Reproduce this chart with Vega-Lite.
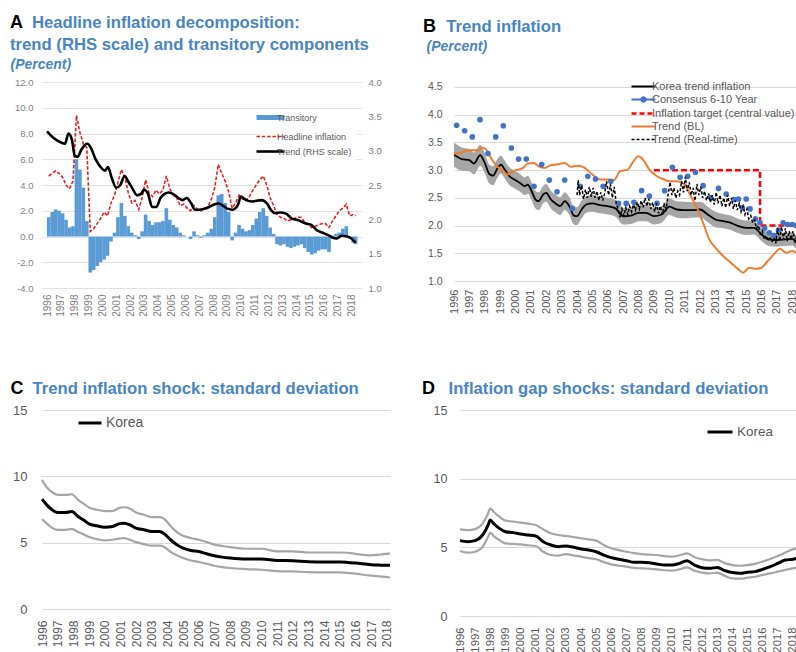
{
  "$schema": "https://vega.github.io/schema/vega-lite/v6.json",
  "padding": {"left": 10, "top": 14, "right": 0, "bottom": 0},
  "background": "white",
  "config": {
    "view": {"stroke": null},
    "font": "Liberation Sans",
    "locale": {"number": {"decimal": ".", "thousands": ",", "grouping": [3], "currency": ["$", ""], "minus": "-"}},
    "axis": {"domain": false, "ticks": false, "gridColor": "#d9d9d9", "gridWidth": 1, "labelColor": "#595959", "labelFont": "Liberation Sans"},
    "legend": {"labelFont": "Liberation Sans", "labelColor": "#595959"}
  },
  "datasets": {
    "aq": [
      {"t":1996.125,"tr":1.5,"hl":4.7},{"t":1996.375,"tr":1.9,"hl":4.9},{"t":1996.625,"tr":2.1,"hl":5.1},{"t":1996.875,"tr":2.0,"hl":4.9},
      {"t":1997.125,"tr":1.8,"hl":4.6},{"t":1997.375,"tr":1.3,"hl":4.0},{"t":1997.625,"tr":0.7,"hl":3.7},{"t":1997.875,"tr":0.8,"hl":4.3},
      {"t":1998.125,"tr":6.0,"hl":9.4},{"t":1998.375,"tr":5.2,"hl":8.1},{"t":1998.625,"tr":3.8,"hl":7.2},{"t":1998.875,"tr":1.2,"hl":6.9},
      {"t":1999.125,"tr":-2.8,"hl":0.4},{"t":1999.375,"tr":-2.6,"hl":0.6},{"t":1999.625,"tr":-2.3,"hl":1.0},{"t":1999.875,"tr":-2.0,"hl":1.4},
      {"t":2000.125,"tr":-1.8,"hl":1.9},{"t":2000.375,"tr":-1.5,"hl":1.6},{"t":2000.625,"tr":-0.4,"hl":2.6},{"t":2000.875,"tr":0.3,"hl":3.2},
      {"t":2001.125,"tr":1.5,"hl":4.2},{"t":2001.375,"tr":2.6,"hl":5.2},{"t":2001.625,"tr":1.6,"hl":4.6},{"t":2001.875,"tr":0.8,"hl":3.4},
      {"t":2002.125,"tr":0.3,"hl":2.6},{"t":2002.375,"tr":0.1,"hl":2.8},{"t":2002.625,"tr":-0.2,"hl":2.1},{"t":2002.875,"tr":0.4,"hl":3.0},
      {"t":2003.125,"tr":1.7,"hl":4.4},{"t":2003.375,"tr":1.2,"hl":3.4},{"t":2003.625,"tr":0.9,"hl":3.1},{"t":2003.875,"tr":1.1,"hl":3.6},
      {"t":2004.125,"tr":1.1,"hl":3.3},{"t":2004.375,"tr":1.2,"hl":3.6},{"t":2004.625,"tr":2.2,"hl":4.7},{"t":2004.875,"tr":1.3,"hl":3.7},
      {"t":2005.125,"tr":0.9,"hl":3.2},{"t":2005.375,"tr":0.7,"hl":3.0},{"t":2005.625,"tr":0.3,"hl":2.4},{"t":2005.875,"tr":0.1,"hl":2.5},
      {"t":2006.125,"tr":0.0,"hl":2.2},{"t":2006.375,"tr":-0.2,"hl":2.0},{"t":2006.625,"tr":0.4,"hl":2.4},{"t":2006.875,"tr":0.1,"hl":2.1},
      {"t":2007.125,"tr":-0.1,"hl":2.0},{"t":2007.375,"tr":0.1,"hl":2.2},{"t":2007.625,"tr":0.3,"hl":2.3},{"t":2007.875,"tr":0.6,"hl":2.9},
      {"t":2008.125,"tr":1.5,"hl":3.8},{"t":2008.375,"tr":3.2,"hl":5.6},{"t":2008.625,"tr":3.3,"hl":4.9},{"t":2008.875,"tr":2.6,"hl":4.3},
      {"t":2009.125,"tr":1.9,"hl":3.5},{"t":2009.375,"tr":-0.3,"hl":2.2},{"t":2009.625,"tr":0.3,"hl":2.6},{"t":2009.875,"tr":0.9,"hl":3.2},
      {"t":2010.125,"tr":0.6,"hl":2.9},{"t":2010.375,"tr":0.4,"hl":2.8},{"t":2010.625,"tr":0.5,"hl":3.1},{"t":2010.875,"tr":0.9,"hl":3.6},
      {"t":2011.125,"tr":1.4,"hl":4.0},{"t":2011.375,"tr":1.9,"hl":4.4},{"t":2011.625,"tr":2.2,"hl":4.7},{"t":2011.875,"tr":1.6,"hl":4.0},
      {"t":2012.125,"tr":0.7,"hl":3.0},{"t":2012.375,"tr":0.2,"hl":2.4},{"t":2012.625,"tr":-0.6,"hl":1.7},{"t":2012.875,"tr":-0.7,"hl":1.5},
      {"t":2013.125,"tr":-0.6,"hl":1.4},{"t":2013.375,"tr":-0.8,"hl":1.2},{"t":2013.625,"tr":-0.9,"hl":1.3},{"t":2013.875,"tr":-0.8,"hl":1.4},
      {"t":2014.125,"tr":-0.7,"hl":1.5},{"t":2014.375,"tr":-0.6,"hl":1.5},{"t":2014.625,"tr":-0.9,"hl":1.1},{"t":2014.875,"tr":-1.2,"hl":0.9},
      {"t":2015.125,"tr":-1.4,"hl":0.7},{"t":2015.375,"tr":-1.3,"hl":0.8},{"t":2015.625,"tr":-1.1,"hl":0.9},{"t":2015.875,"tr":-1.0,"hl":1.0},
      {"t":2016.125,"tr":-1.0,"hl":1.0},{"t":2016.375,"tr":-1.2,"hl":0.7},{"t":2016.625,"tr":-0.2,"hl":1.2},{"t":2016.875,"tr":0.2,"hl":1.6},
      {"t":2017.125,"tr":0.3,"hl":2.0},{"t":2017.375,"tr":0.6,"hl":2.2},{"t":2017.625,"tr":0.8,"hl":2.5},{"t":2017.875,"tr":0.0,"hl":1.6},
      {"t":2018.125,"tr":-0.5,"hl":1.7},{"t":2018.3,"tr":-0.6,"hl":1.6}
    ],
    "at": [
      {"t":1996.0,"v":3.28},{"t":1996.5,"v":3.18},{"t":1997.0,"v":3.12},{"t":1997.3,"v":3.10},{"t":1997.55,"v":3.25},{"t":1997.8,"v":3.16},
      {"t":1998.0,"v":2.93},{"t":1998.2,"v":2.91},{"t":1998.5,"v":3.02},{"t":1998.9,"v":3.10},{"t":1999.2,"v":3.03},{"t":1999.5,"v":2.88},
      {"t":1999.8,"v":2.78},{"t":2000.2,"v":2.71},{"t":2000.4,"v":2.76},{"t":2000.7,"v":2.59},{"t":2001.0,"v":2.46},{"t":2001.3,"v":2.50},
      {"t":2001.6,"v":2.63},{"t":2001.9,"v":2.54},{"t":2002.2,"v":2.44},{"t":2002.5,"v":2.35},{"t":2002.8,"v":2.37},{"t":2003.0,"v":2.43},
      {"t":2003.3,"v":2.37},{"t":2003.6,"v":2.18},{"t":2003.9,"v":2.18},{"t":2004.2,"v":2.31},{"t":2004.5,"v":2.37},{"t":2004.8,"v":2.39},
      {"t":2005.1,"v":2.37},{"t":2005.5,"v":2.31},{"t":2005.8,"v":2.28},{"t":2006.1,"v":2.31},{"t":2006.4,"v":2.24},{"t":2006.7,"v":2.14},
      {"t":2007.0,"v":2.14},{"t":2007.5,"v":2.16},{"t":2008.0,"v":2.21},{"t":2008.4,"v":2.23},{"t":2009.0,"v":2.16},{"t":2009.4,"v":2.14},
      {"t":2009.8,"v":2.21},{"t":2010.0,"v":2.33},{"t":2010.4,"v":2.28},{"t":2010.8,"v":2.26},{"t":2011.5,"v":2.28},{"t":2011.9,"v":2.23},
      {"t":2012.2,"v":2.13},{"t":2012.5,"v":2.09},{"t":2012.9,"v":2.10},{"t":2013.3,"v":2.08},{"t":2013.7,"v":2.01},{"t":2014.1,"v":1.99},
      {"t":2014.7,"v":1.94},{"t":2015.1,"v":1.92},{"t":2015.5,"v":1.84},{"t":2016.0,"v":1.80},{"t":2016.5,"v":1.75},{"t":2016.9,"v":1.72},
      {"t":2017.3,"v":1.76},{"t":2017.7,"v":1.75},{"t":2018.0,"v":1.72},{"t":2018.3,"v":1.66}
    ],
    "bk": [
      {"t":1996.0,"v":3.28,"lo":3.06,"hi":3.50},{"t":1996.5,"v":3.20,"lo":2.99,"hi":3.41},{"t":1997.0,"v":3.18,"lo":2.98,"hi":3.38},
      {"t":1997.3,"v":3.12,"lo":2.92,"hi":3.32},{"t":1997.7,"v":3.27,"lo":3.08,"hi":3.46},{"t":1998.0,"v":3.13,"lo":2.95,"hi":3.31},
      {"t":1998.3,"v":2.93,"lo":2.76,"hi":3.10},{"t":1998.55,"v":2.90,"lo":2.73,"hi":3.07},{"t":1998.8,"v":3.02,"lo":2.85,"hi":3.19},
      {"t":1999.05,"v":3.10,"lo":2.94,"hi":3.26},{"t":1999.3,"v":3.01,"lo":2.85,"hi":3.17},{"t":1999.6,"v":2.89,"lo":2.73,"hi":3.05},
      {"t":2000.0,"v":2.82,"lo":2.66,"hi":2.98},{"t":2000.3,"v":2.77,"lo":2.61,"hi":2.93},{"t":2000.6,"v":2.71,"lo":2.55,"hi":2.87},
      {"t":2000.8,"v":2.74,"lo":2.58,"hi":2.90},{"t":2001.0,"v":2.65,"lo":2.49,"hi":2.81},{"t":2001.3,"v":2.47,"lo":2.31,"hi":2.63},
      {"t":2001.5,"v":2.44,"lo":2.28,"hi":2.60},{"t":2001.8,"v":2.56,"lo":2.40,"hi":2.72},{"t":2002.0,"v":2.59,"lo":2.43,"hi":2.75},
      {"t":2002.3,"v":2.47,"lo":2.31,"hi":2.63},{"t":2002.6,"v":2.40,"lo":2.24,"hi":2.56},{"t":2002.9,"v":2.35,"lo":2.19,"hi":2.51},
      {"t":2003.2,"v":2.44,"lo":2.28,"hi":2.60},{"t":2003.5,"v":2.35,"lo":2.19,"hi":2.51},{"t":2003.8,"v":2.18,"lo":2.02,"hi":2.34},
      {"t":2004.0,"v":2.17,"lo":2.01,"hi":2.33},{"t":2004.3,"v":2.29,"lo":2.13,"hi":2.45},{"t":2004.6,"v":2.38,"lo":2.23,"hi":2.53},
      {"t":2005.0,"v":2.40,"lo":2.25,"hi":2.55},{"t":2005.5,"v":2.37,"lo":2.22,"hi":2.52},{"t":2006.0,"v":2.35,"lo":2.20,"hi":2.50},
      {"t":2006.5,"v":2.31,"lo":2.16,"hi":2.46},{"t":2007.0,"v":2.17,"lo":2.02,"hi":2.32},{"t":2007.5,"v":2.18,"lo":2.03,"hi":2.33},
      {"t":2008.0,"v":2.23,"lo":2.08,"hi":2.38},{"t":2008.5,"v":2.23,"lo":2.08,"hi":2.38},{"t":2009.0,"v":2.17,"lo":2.02,"hi":2.32},
      {"t":2009.5,"v":2.20,"lo":2.05,"hi":2.35},{"t":2010.0,"v":2.34,"lo":2.19,"hi":2.49},{"t":2010.5,"v":2.29,"lo":2.14,"hi":2.44},
      {"t":2011.0,"v":2.28,"lo":2.13,"hi":2.43},{"t":2011.5,"v":2.28,"lo":2.14,"hi":2.42},{"t":2012.0,"v":2.29,"lo":2.15,"hi":2.43},
      {"t":2012.5,"v":2.20,"lo":2.06,"hi":2.34},{"t":2013.0,"v":2.11,"lo":1.97,"hi":2.25},{"t":2013.5,"v":2.08,"lo":1.95,"hi":2.21},
      {"t":2014.0,"v":2.05,"lo":1.92,"hi":2.18},{"t":2014.5,"v":1.99,"lo":1.86,"hi":2.12},{"t":2015.0,"v":1.96,"lo":1.83,"hi":2.09},
      {"t":2015.5,"v":1.96,"lo":1.84,"hi":2.08},{"t":2016.0,"v":1.84,"lo":1.72,"hi":1.96},{"t":2016.5,"v":1.75,"lo":1.63,"hi":1.87},
      {"t":2017.0,"v":1.74,"lo":1.62,"hi":1.86},{"t":2017.5,"v":1.75,"lo":1.63,"hi":1.87},{"t":2018.0,"v":1.76,"lo":1.64,"hi":1.88},
      {"t":2018.3,"v":1.69,"lo":1.57,"hi":1.81},{"t":2018.5,"v":1.68,"lo":1.56,"hi":1.80}
    ],
    "bc": [
      {"t":1996.17,"v":3.81},{"t":1996.69,"v":3.71},{"t":1997.19,"v":3.60},{"t":1997.69,"v":3.91},{"t":1998.21,"v":3.30},{"t":1998.71,"v":3.60},
      {"t":1999.21,"v":3.80},{"t":1999.73,"v":3.40},{"t":2000.2,"v":3.20},{"t":2000.7,"v":3.20},{"t":2001.2,"v":2.71},{"t":2001.7,"v":3.10},
      {"t":2002.2,"v":2.82},{"t":2002.7,"v":2.61},{"t":2003.2,"v":2.82},{"t":2003.7,"v":2.31},{"t":2004.2,"v":2.71},{"t":2004.7,"v":2.89},
      {"t":2005.2,"v":2.84},{"t":2005.7,"v":2.71},{"t":2006.2,"v":2.80},{"t":2006.7,"v":2.40},{"t":2007.2,"v":2.40},{"t":2007.7,"v":2.42},
      {"t":2008.2,"v":2.63},{"t":2008.7,"v":2.53},{"t":2009.2,"v":2.40},{"t":2009.7,"v":2.63},{"t":2010.2,"v":3.05},{"t":2010.7,"v":2.87},
      {"t":2011.2,"v":2.89},{"t":2011.7,"v":2.96},{"t":2012.2,"v":2.72},{"t":2012.7,"v":2.50},{"t":2013.2,"v":2.67},{"t":2013.7,"v":2.57},
      {"t":2014.2,"v":2.47},{"t":2014.5,"v":2.48},{"t":2014.75,"v":2.32},{"t":2015.0,"v":2.48},{"t":2015.25,"v":2.30},{"t":2015.6,"v":2.12},
      {"t":2015.9,"v":2.05},{"t":2016.2,"v":1.95},{"t":2016.5,"v":1.87},{"t":2016.8,"v":1.82},{"t":2017.1,"v":1.92},{"t":2017.4,"v":2.05},
      {"t":2017.7,"v":2.02},{"t":2018.0,"v":2.02},{"t":2018.25,"v":2.00}
    ],
    "bt": [
      {"i":0,"t":2009.0,"v":3.0},{"i":1,"t":2015.9,"v":3.0},{"i":2,"t":2015.9,"v":2.0},{"i":3,"t":2018.5,"v":2.0}
    ],
    "bl": [
      {"t":1996.0,"v":3.30},{"t":1996.5,"v":3.32},{"t":1997.0,"v":3.36},{"t":1997.5,"v":3.36},{"t":1997.9,"v":3.40},{"t":1998.1,"v":3.37},
      {"t":1998.4,"v":3.22},{"t":1998.8,"v":3.07},{"t":1999.2,"v":2.98},{"t":1999.5,"v":2.92},{"t":1999.8,"v":2.98},{"t":2000.2,"v":3.01},
      {"t":2000.5,"v":3.04},{"t":2000.8,"v":3.12},{"t":2001.2,"v":3.13},{"t":2001.5,"v":3.07},{"t":2001.9,"v":3.04},{"t":2002.3,"v":3.09},
      {"t":2002.7,"v":3.10},{"t":2003.2,"v":3.13},{"t":2003.6,"v":3.06},{"t":2004.0,"v":3.08},{"t":2004.5,"v":3.04},{"t":2005.0,"v":2.92},
      {"t":2005.5,"v":2.83},{"t":2006.0,"v":2.83},{"t":2006.4,"v":2.82},{"t":2006.8,"v":2.98},{"t":2007.3,"v":3.01},{"t":2007.6,"v":3.13},
      {"t":2008.0,"v":3.25},{"t":2008.3,"v":3.19},{"t":2008.7,"v":3.01},{"t":2009.2,"v":2.89},{"t":2009.6,"v":2.84},{"t":2010.0,"v":2.80},
      {"t":2010.5,"v":2.80},{"t":2011.0,"v":2.74},{"t":2011.4,"v":2.53},{"t":2011.8,"v":2.32},{"t":2012.2,"v":2.05},{"t":2012.6,"v":1.75},
      {"t":2013.0,"v":1.60},{"t":2013.5,"v":1.45},{"t":2014.0,"v":1.33},{"t":2014.5,"v":1.21},{"t":2014.8,"v":1.15},{"t":2015.2,"v":1.24},
      {"t":2015.6,"v":1.22},{"t":2016.0,"v":1.24},{"t":2016.4,"v":1.36},{"t":2016.8,"v":1.48},{"t":2017.2,"v":1.58},{"t":2017.6,"v":1.51},
      {"t":2018.0,"v":1.54},{"t":2018.3,"v":1.51},{"t":2018.5,"v":1.52}
    ],
    "br": [
      {"t":2004.0,"v":2.55},{"t":2004.08,"v":2.82},{"t":2004.17,"v":2.55},{"t":2004.3,"v":2.72},{"t":2004.42,"v":2.48},{"t":2004.55,"v":2.65},
      {"t":2004.67,"v":2.5},{"t":2004.8,"v":2.7},{"t":2004.92,"v":2.52},{"t":2005.05,"v":2.68},{"t":2005.17,"v":2.5},{"t":2005.3,"v":2.62},
      {"t":2005.42,"v":2.45},{"t":2005.55,"v":2.6},{"t":2005.67,"v":2.45},{"t":2005.8,"v":2.58},{"t":2005.92,"v":2.8},{"t":2006.05,"v":2.55},
      {"t":2006.17,"v":2.75},{"t":2006.3,"v":2.5},{"t":2006.42,"v":2.7},{"t":2006.55,"v":2.4},{"t":2006.67,"v":2.3},{"t":2006.8,"v":2.15},
      {"t":2006.92,"v":2.3},{"t":2007.05,"v":2.18},{"t":2007.17,"v":2.32},{"t":2007.3,"v":2.2},{"t":2007.42,"v":2.35},{"t":2007.55,"v":2.25},
      {"t":2007.67,"v":2.38},{"t":2007.8,"v":2.28},{"t":2007.92,"v":2.42},{"t":2008.05,"v":2.3},{"t":2008.17,"v":2.45},{"t":2008.3,"v":2.33},
      {"t":2008.42,"v":2.5},{"t":2008.55,"v":2.35},{"t":2008.67,"v":2.48},{"t":2008.8,"v":2.3},{"t":2008.92,"v":2.42},{"t":2009.05,"v":2.25},
      {"t":2009.17,"v":2.4},{"t":2009.3,"v":2.22},{"t":2009.42,"v":2.35},{"t":2009.55,"v":2.2},{"t":2009.67,"v":2.38},{"t":2009.8,"v":2.3},
      {"t":2009.92,"v":2.55},{"t":2010.05,"v":2.78},{"t":2010.17,"v":2.55},{"t":2010.3,"v":2.68},{"t":2010.42,"v":2.5},{"t":2010.55,"v":2.62},
      {"t":2010.67,"v":2.55},{"t":2010.8,"v":2.8},{"t":2010.92,"v":2.6},{"t":2011.05,"v":2.88},{"t":2011.17,"v":2.62},{"t":2011.3,"v":2.78},
      {"t":2011.42,"v":2.55},{"t":2011.55,"v":2.68},{"t":2011.67,"v":2.45},{"t":2011.8,"v":2.75},{"t":2011.92,"v":2.55},{"t":2012.05,"v":2.7},
      {"t":2012.17,"v":2.5},{"t":2012.3,"v":2.62},{"t":2012.42,"v":2.45},{"t":2012.55,"v":2.58},{"t":2012.67,"v":2.42},{"t":2012.8,"v":2.55},
      {"t":2012.92,"v":2.38},{"t":2013.05,"v":2.6},{"t":2013.17,"v":2.4},{"t":2013.3,"v":2.55},{"t":2013.42,"v":2.35},{"t":2013.55,"v":2.5},
      {"t":2013.67,"v":2.32},{"t":2013.8,"v":2.55},{"t":2013.92,"v":2.35},{"t":2014.05,"v":2.5},{"t":2014.17,"v":2.3},{"t":2014.3,"v":2.45},
      {"t":2014.42,"v":2.28},{"t":2014.55,"v":2.4},{"t":2014.67,"v":2.25},{"t":2014.8,"v":2.35},{"t":2014.92,"v":2.2},{"t":2015.05,"v":2.3},
      {"t":2015.17,"v":2.12},{"t":2015.3,"v":2.18},{"t":2015.42,"v":2.05},{"t":2015.55,"v":2.1},{"t":2015.67,"v":1.95},{"t":2015.8,"v":2.0},
      {"t":2015.92,"v":1.85},{"t":2016.05,"v":1.9},{"t":2016.17,"v":1.75},{"t":2016.3,"v":1.82},{"t":2016.42,"v":1.72},{"t":2016.55,"v":1.8},
      {"t":2016.67,"v":1.7},{"t":2016.8,"v":1.78},{"t":2016.92,"v":1.68},{"t":2017.05,"v":1.95},{"t":2017.17,"v":1.72},{"t":2017.3,"v":1.98},
      {"t":2017.42,"v":1.75},{"t":2017.55,"v":1.95},{"t":2017.67,"v":1.72},{"t":2017.8,"v":1.9},{"t":2017.92,"v":1.75},{"t":2018.05,"v":1.9},
      {"t":2018.17,"v":1.72},{"t":2018.3,"v":1.82},{"t":2018.45,"v":1.75}
    ],
    "c": [
      {"t":1996.0,"mid":8.28,"lo":6.77,"hi":9.73},{"t":1996.3,"mid":7.85,"lo":6.45,"hi":9.18},{"t":1996.6,"mid":7.52,"lo":6.15,"hi":8.85},
      {"t":1997.0,"mid":7.27,"lo":5.97,"hi":8.60},{"t":1997.5,"mid":7.27,"lo":5.97,"hi":8.60},{"t":1997.9,"mid":7.35,"lo":6.04,"hi":8.65},
      {"t":1998.3,"mid":6.97,"lo":5.80,"hi":8.23},{"t":1998.7,"mid":6.67,"lo":5.60,"hi":7.90},{"t":1999.0,"mid":6.42,"lo":5.42,"hi":7.65},
      {"t":1999.5,"mid":6.27,"lo":5.27,"hi":7.48},{"t":2000.0,"mid":6.17,"lo":5.17,"hi":7.38},{"t":2000.5,"mid":6.22,"lo":5.22,"hi":7.38},
      {"t":2000.9,"mid":6.42,"lo":5.30,"hi":7.60},{"t":2001.2,"mid":6.47,"lo":5.34,"hi":7.67},{"t":2001.6,"mid":6.35,"lo":5.22,"hi":7.58},
      {"t":2002.0,"mid":6.09,"lo":5.04,"hi":7.27},{"t":2002.5,"mid":5.97,"lo":4.89,"hi":7.10},{"t":2003.0,"mid":5.84,"lo":4.77,"hi":6.92},
      {"t":2003.5,"mid":5.84,"lo":4.77,"hi":6.92},{"t":2003.8,"mid":5.67,"lo":4.68,"hi":6.80},{"t":2004.2,"mid":5.22,"lo":4.30,"hi":6.25},
      {"t":2004.6,"mid":4.84,"lo":4.05,"hi":5.80},{"t":2005.0,"mid":4.59,"lo":3.84,"hi":5.52},{"t":2005.5,"mid":4.41,"lo":3.66,"hi":5.35},
      {"t":2006.0,"mid":4.34,"lo":3.54,"hi":5.22},{"t":2006.5,"mid":4.16,"lo":3.41,"hi":5.05},{"t":2007.0,"mid":4.01,"lo":3.26,"hi":4.85},
      {"t":2007.5,"mid":3.91,"lo":3.16,"hi":4.75},{"t":2008.0,"mid":3.84,"lo":3.09,"hi":4.67},{"t":2009.0,"mid":3.76,"lo":3.01,"hi":4.54},
      {"t":2010.0,"mid":3.76,"lo":2.96,"hi":4.54},{"t":2011.0,"mid":3.66,"lo":2.86,"hi":4.34},{"t":2012.0,"mid":3.64,"lo":2.83,"hi":4.34},
      {"t":2013.0,"mid":3.56,"lo":2.78,"hi":4.26},{"t":2014.0,"mid":3.54,"lo":2.76,"hi":4.26},{"t":2015.0,"mid":3.54,"lo":2.76,"hi":4.26},
      {"t":2015.5,"mid":3.51,"lo":2.73,"hi":4.24},{"t":2016.0,"mid":3.46,"lo":2.66,"hi":4.16},{"t":2017.0,"mid":3.34,"lo":2.51,"hi":4.04},
      {"t":2017.5,"mid":3.31,"lo":2.46,"hi":4.09},{"t":2018.0,"mid":3.29,"lo":2.41,"hi":4.16},{"t":2018.2,"mid":3.29,"lo":2.37,"hi":4.19}
    ],
    "d": [
      {"t":1996.0,"mid":5.49,"lo":4.73,"hi":6.31},{"t":1996.5,"mid":5.41,"lo":4.61,"hi":6.26},{"t":1997.0,"mid":5.49,"lo":4.68,"hi":6.33},
      {"t":1997.5,"mid":5.90,"lo":5.05,"hi":6.75},{"t":1997.85,"mid":6.60,"lo":5.75,"hi":7.45},{"t":1998.0,"mid":6.99,"lo":6.07,"hi":7.84},
      {"t":1998.25,"mid":6.70,"lo":5.80,"hi":7.55},{"t":1998.6,"mid":6.38,"lo":5.53,"hi":7.23},{"t":1999.0,"mid":6.14,"lo":5.29,"hi":6.94},
      {"t":1999.5,"mid":6.07,"lo":5.25,"hi":6.88},{"t":2000.0,"mid":5.97,"lo":5.22,"hi":6.80},{"t":2000.5,"mid":5.90,"lo":5.15,"hi":6.72},
      {"t":2001.0,"mid":5.83,"lo":5.10,"hi":6.63},{"t":2001.5,"mid":5.41,"lo":4.68,"hi":6.31},{"t":2002.0,"mid":5.17,"lo":4.44,"hi":6.02},
      {"t":2002.5,"mid":5.05,"lo":4.40,"hi":5.90},{"t":2003.0,"mid":5.10,"lo":4.51,"hi":5.83},{"t":2003.5,"mid":5.00,"lo":4.42,"hi":5.75},
      {"t":2004.0,"mid":4.88,"lo":4.32,"hi":5.66},{"t":2004.5,"mid":4.81,"lo":4.22,"hi":5.58},{"t":2005.0,"mid":4.68,"lo":4.13,"hi":5.49},
      {"t":2005.5,"mid":4.44,"lo":3.92,"hi":5.17},{"t":2006.0,"mid":4.25,"lo":3.76,"hi":4.93},{"t":2006.5,"mid":4.13,"lo":3.67,"hi":4.80},
      {"t":2007.0,"mid":4.03,"lo":3.59,"hi":4.68},{"t":2007.5,"mid":3.91,"lo":3.50,"hi":4.58},{"t":2008.0,"mid":3.91,"lo":3.47,"hi":4.51},
      {"t":2008.5,"mid":3.88,"lo":3.44,"hi":4.47},{"t":2009.0,"mid":3.79,"lo":3.40,"hi":4.44},{"t":2009.5,"mid":3.71,"lo":3.33,"hi":4.36},
      {"t":2010.0,"mid":3.71,"lo":3.30,"hi":4.32},{"t":2010.5,"mid":3.83,"lo":3.40,"hi":4.42},{"t":2011.0,"mid":4.03,"lo":3.54,"hi":4.56},
      {"t":2011.5,"mid":3.71,"lo":3.30,"hi":4.28},{"t":2012.0,"mid":3.52,"lo":3.16,"hi":4.13},{"t":2012.5,"mid":3.47,"lo":3.10,"hi":4.05},
      {"t":2013.0,"mid":3.54,"lo":3.16,"hi":4.08},{"t":2013.5,"mid":3.30,"lo":2.92,"hi":3.85},{"t":2014.0,"mid":3.16,"lo":2.74,"hi":3.71},
      {"t":2014.5,"mid":3.11,"lo":2.72,"hi":3.66},{"t":2015.0,"mid":3.18,"lo":2.79,"hi":3.71},{"t":2015.5,"mid":3.23,"lo":2.86,"hi":3.80},
      {"t":2016.0,"mid":3.40,"lo":2.99,"hi":3.96},{"t":2016.5,"mid":3.59,"lo":3.10,"hi":4.15},{"t":2017.0,"mid":3.83,"lo":3.23,"hi":4.37},
      {"t":2017.5,"mid":4.08,"lo":3.36,"hi":4.62},{"t":2018.0,"mid":4.13,"lo":3.47,"hi":4.85},{"t":2018.4,"mid":4.25,"lo":3.52,"hi":4.93}
    ]
  },
  "spacing": 63,
  "resolve": {"scale": {"color": "independent"}},
  "vconcat": [
    {
      "spacing": 41,
      "resolve": {"scale": {"color": "independent"}},
      "hconcat": [
        {
          "width": 320, "height": 206,
          "title": {"text": "A", "subtitle": ["\u200b\u00a0\u00a0\u00a0\u00a0\u2009Headline inflation decomposition:", "trend (RHS scale) and transitory components"], "anchor": "start", "frame": "bounds", "offset": 3, "font": "Liberation Sans", "fontSize": 18, "fontWeight": "bold", "color": "#000000", "subtitleFont": "Liberation Sans", "subtitleFontSize": 16.7, "subtitleFontWeight": "bold", "subtitleColor": "#4a85bf", "subtitlePadding": -17, "subtitleLineHeight": 22},
          "encoding": {
            "x": {"field": "t", "type": "quantitative", "scale": {"domain": [1996, 2018.4], "nice": false, "zero": false},
                  "axis": {"values": [1996,1997,1998,1999,2000,2001,2002,2003,2004,2005,2006,2007,2008,2009,2010,2011,2012,2013,2014,2015,2016,2017,2018], "format": "d", "labelAngle": 270, "labelFontSize": 10, "labelPadding": 6, "labelColor": "#7f7f7f", "grid": false, "title": null, "labelOverlap": false}}
          },
          "layer": [
            {
              "layer": [
                {
                  "data": {"name": "aq"},
                  "mark": {"type": "bar", "width": 3.6, "color": "#5b9bd5"},
                  "encoding": {
                    "y": {"field": "tr", "type": "quantitative", "scale": {"domain": [-4, 12], "nice": false},
                          "axis": {"values": [-4,-2,0,2,4,6,8,10,12], "format": ".1f", "grid": true, "gridColor": "#e3e3e3", "labelFontSize": 9.5, "labelColor": "#7f7f7f", "labelPadding": 9, "labelOverlap": false, "title": "(Percent)", "titleAngle": 0, "titleAlign": "left", "titleBaseline": "alphabetic", "titleX": -32, "titleY": -14, "titleFont": "Liberation Sans", "titleFontSize": 14, "titleFontStyle": "italic", "titleFontWeight": "bold", "titleColor": "#4a85bf"}}
                  }
                },
                {
                  "data": {"name": "aq"},
                  "mark": {"type": "line"},
                  "encoding": {
                    "y": {"field": "hl", "type": "quantitative", "scale": {"domain": [-4, 12], "nice": false},
                          "axis": {"values": [-4,-2,0,2,4,6,8,10,12], "format": ".1f", "grid": true, "gridColor": "#e3e3e3", "labelFontSize": 9.5, "labelColor": "#7f7f7f", "labelPadding": 9, "labelOverlap": false, "title": "(Percent)", "titleAngle": 0, "titleAlign": "left", "titleBaseline": "alphabetic", "titleX": -32, "titleY": -14, "titleFont": "Liberation Sans", "titleFontSize": 14, "titleFontStyle": "italic", "titleFontWeight": "bold", "titleColor": "#4a85bf"}},
                    "strokeWidth": {"value": 1.6},
                    "strokeDash": {"value": [3.5, 1.8]},
                    "color": {"datum": "Headline inflation", "type": "nominal",
                      "scale": {"domain": ["Transitory", "Headline inflation", "Trend (RHS scale)"], "range": ["#5b9bd5", "#e32222", "#000000"]},
                      "legend": {"title": null, "orient": "none", "legendX": 220, "legendY": 27, "fillColor": "#ffffff", "padding": 4, "symbolType": "stroke", "symbolSize": 784,
                        "symbolStrokeWidth": {"expr": "datum.value === 'Transitory' ? 5 : (datum.value === 'Headline inflation' ? 1.6 : 2.6)"},
                        "symbolDash": {"expr": "datum.value === 'Headline inflation' ? [3.5, 1.8] : []"},
                        "labelFontSize": 9, "labelColor": "#595959", "labelOffset": 2, "rowPadding": 4}}
                  }
                },
                {
                  "data": {"values": [{"label": "Korea: Inflation decomposition"}]},
                  "mark": {"type": "text", "font": "Liberation Sans", "fontSize": 13.5, "color": "#595959", "baseline": "alphabetic", "align": "center"},
                  "encoding": {
                    "x": {"datum": 2006.9, "type": "quantitative", "scale": {"domain": [1996, 2018.4], "nice": false, "zero": false},
                          "axis": {"values": [1996,1997,1998,1999,2000,2001,2002,2003,2004,2005,2006,2007,2008,2009,2010,2011,2012,2013,2014,2015,2016,2017,2018], "format": "d", "labelAngle": 270, "labelFontSize": 10, "labelPadding": 6, "labelColor": "#7f7f7f", "grid": false, "title": null, "labelOverlap": false}},
                    "y": {"datum": 10.86, "type": "quantitative", "scale": {"domain": [-4, 12], "nice": false},
                          "axis": {"values": [-4,-2,0,2,4,6,8,10,12], "format": ".1f", "grid": true, "gridColor": "#e3e3e3", "labelFontSize": 9.5, "labelColor": "#7f7f7f", "labelPadding": 9, "labelOverlap": false, "title": "(Percent)", "titleAngle": 0, "titleAlign": "left", "titleBaseline": "alphabetic", "titleX": -32, "titleY": -14, "titleFont": "Liberation Sans", "titleFontSize": 14, "titleFontStyle": "italic", "titleFontWeight": "bold", "titleColor": "#4a85bf"}},
                    "text": {"field": "label"}
                  }
                }
              ]
            },
            {
              "data": {"name": "at"},
              "mark": {"type": "line", "interpolate": "monotone"},
              "encoding": {
                "y": {"field": "v", "type": "quantitative", "scale": {"domain": [1, 4], "nice": false, "zero": false},
                      "axis": {"orient": "right", "values": [1,1.5,2,2.5,3,3.5,4], "format": ".1f", "grid": false, "labelFontSize": 9.5, "labelColor": "#7f7f7f", "labelPadding": 6, "title": null}},
                "strokeWidth": {"value": 2.6},
                "color": {"datum": "Trend (RHS scale)", "type": "nominal",
                  "scale": {"domain": ["Transitory", "Headline inflation", "Trend (RHS scale)"], "range": ["#5b9bd5", "#e32222", "#000000"]},
                  "legend": {"title": null, "orient": "none", "legendX": 220, "legendY": 27, "fillColor": "#ffffff", "padding": 4, "symbolType": "stroke", "symbolSize": 784,
                    "symbolStrokeWidth": {"expr": "datum.value === 'Transitory' ? 5 : (datum.value === 'Headline inflation' ? 1.6 : 2.6)"},
                    "symbolDash": {"expr": "datum.value === 'Headline inflation' ? [3.5, 1.8] : []"},
                    "labelFontSize": 9, "labelColor": "#595959", "labelOffset": 2, "rowPadding": 4}}
              }
            }
          ],
          "resolve": {"scale": {"y": "independent"}}
        },
        {
          "width": 346, "height": 199,
          "title": {"text": "B", "subtitle": "\u200b\u00a0\u00a0\u00a0\u00a0\u00a0Trend inflation", "anchor": "start", "frame": "bounds", "dx": -3, "offset": 3, "font": "Liberation Sans", "fontSize": 18, "fontWeight": "bold", "color": "#000000", "subtitleFont": "Liberation Sans", "subtitleFontSize": 16.7, "subtitleFontWeight": "bold", "subtitleColor": "#4a85bf", "subtitlePadding": -17},
          "encoding": {
            "x": {"field": "t", "type": "quantitative", "scale": {"domain": [1996, 2018.5], "nice": false, "zero": false},
                  "axis": {"values": [1996,1997,1998,1999,2000,2001,2002,2003,2004,2005,2006,2007,2008,2009,2010,2011,2012,2013,2014,2015,2016,2017,2018], "format": "d", "labelAngle": 270, "labelFontSize": 11, "labelPadding": 8, "grid": false, "title": null, "labelOverlap": false}}
          },
          "layer": [
            {
              "data": {"name": "bk"},
              "mark": {"type": "area", "color": "#a6a6a6", "opacity": 1, "interpolate": "monotone"},
              "encoding": {
                "y": {"field": "lo", "type": "quantitative", "scale": {"domain": [1, 4.59], "nice": false, "zero": false},
                      "axis": {"values": [1,1.5,2,2.5,3,3.5,4,4.5], "format": ".1f", "grid": true, "labelFontSize": 10.5, "labelPadding": 12, "labelOverlap": false, "title": "(Percent)", "titleAngle": 0, "titleAlign": "left", "titleBaseline": "alphabetic", "titleX": -28, "titleY": -32, "titleFont": "Liberation Sans", "titleFontSize": 14, "titleFontStyle": "italic", "titleFontWeight": "bold", "titleColor": "#4a85bf"}},
                "y2": {"field": "hi"}
              }
            },
            {
              "data": {"name": "bk"},
              "mark": {"type": "line", "interpolate": "monotone"},
              "encoding": {
                "y": {"field": "v", "type": "quantitative", "scale": {"domain": [1, 4.59], "nice": false, "zero": false},
                      "axis": {"values": [1,1.5,2,2.5,3,3.5,4,4.5], "format": ".1f", "grid": true, "labelFontSize": 10.5, "labelPadding": 12, "labelOverlap": false, "title": "(Percent)", "titleAngle": 0, "titleAlign": "left", "titleBaseline": "alphabetic", "titleX": -28, "titleY": -32, "titleFont": "Liberation Sans", "titleFontSize": 14, "titleFontStyle": "italic", "titleFontWeight": "bold", "titleColor": "#4a85bf"}},
                "strokeWidth": {"value": 1.8},
                "color": {"datum": "Korea trend inflation", "type": "nominal",
                  "scale": {"domain": ["Korea trend inflation", "Consensus 6-10 Year", "Inflation target (central value)", "Trend (BL)", "Trend (Real-time)"], "range": ["#000000", "#4472c4", "#ff0000", "#ed7d31", "#000000"]},
                  "legend": {"title": null, "orient": "none", "legendX": 184, "legendY": -1, "symbolSize": 576,
                    "symbolType": {"expr": "datum.value === 'Consensus 6-10 Year' ? 'M-1,0H1M0.18,0A0.18,0.18,0,1,1,-0.18,0A0.18,0.18,0,1,1,0.18,0' : 'stroke'"},
                    "symbolStrokeWidth": {"expr": "datum.value === 'Inflation target (central value)' ? 2.5 : (datum.value === 'Trend (Real-time)' ? 1.6 : 2)"},
                    "symbolDash": {"expr": "datum.value === 'Inflation target (central value)' ? [5, 3] : (datum.value === 'Trend (Real-time)' ? [3, 2] : [])"},
                    "labelFontSize": 11, "labelColor": "#595959", "labelOffset": 3, "rowPadding": 1}}
              }
            },
            {
              "data": {"name": "bl"},
              "mark": {"type": "line", "interpolate": "monotone"},
              "encoding": {
                "y": {"field": "v", "type": "quantitative", "scale": {"domain": [1, 4.59], "nice": false, "zero": false},
                      "axis": {"values": [1,1.5,2,2.5,3,3.5,4,4.5], "format": ".1f", "grid": true, "labelFontSize": 10.5, "labelPadding": 12, "labelOverlap": false, "title": "(Percent)", "titleAngle": 0, "titleAlign": "left", "titleBaseline": "alphabetic", "titleX": -28, "titleY": -32, "titleFont": "Liberation Sans", "titleFontSize": 14, "titleFontStyle": "italic", "titleFontWeight": "bold", "titleColor": "#4a85bf"}},
                "strokeWidth": {"value": 2},
                "color": {"datum": "Trend (BL)", "type": "nominal",
                  "scale": {"domain": ["Korea trend inflation", "Consensus 6-10 Year", "Inflation target (central value)", "Trend (BL)", "Trend (Real-time)"], "range": ["#000000", "#4472c4", "#ff0000", "#ed7d31", "#000000"]},
                  "legend": {"title": null, "orient": "none", "legendX": 184, "legendY": -1, "symbolSize": 576,
                    "symbolType": {"expr": "datum.value === 'Consensus 6-10 Year' ? 'M-1,0H1M0.18,0A0.18,0.18,0,1,1,-0.18,0A0.18,0.18,0,1,1,0.18,0' : 'stroke'"},
                    "symbolStrokeWidth": {"expr": "datum.value === 'Inflation target (central value)' ? 2.5 : (datum.value === 'Trend (Real-time)' ? 1.6 : 2)"},
                    "symbolDash": {"expr": "datum.value === 'Inflation target (central value)' ? [5, 3] : (datum.value === 'Trend (Real-time)' ? [3, 2] : [])"},
                    "labelFontSize": 11, "labelColor": "#595959", "labelOffset": 3, "rowPadding": 1}}
              }
            },
            {
              "data": {"name": "bt"},
              "mark": {"type": "line"},
              "encoding": {
                "y": {"field": "v", "type": "quantitative", "scale": {"domain": [1, 4.59], "nice": false, "zero": false},
                      "axis": {"values": [1,1.5,2,2.5,3,3.5,4,4.5], "format": ".1f", "grid": true, "labelFontSize": 10.5, "labelPadding": 12, "labelOverlap": false, "title": "(Percent)", "titleAngle": 0, "titleAlign": "left", "titleBaseline": "alphabetic", "titleX": -28, "titleY": -32, "titleFont": "Liberation Sans", "titleFontSize": 14, "titleFontStyle": "italic", "titleFontWeight": "bold", "titleColor": "#4a85bf"}},
                "order": {"field": "i"},
                "strokeWidth": {"value": 2.5},
                "strokeDash": {"value": [6, 3]},
                "color": {"datum": "Inflation target (central value)", "type": "nominal",
                  "scale": {"domain": ["Korea trend inflation", "Consensus 6-10 Year", "Inflation target (central value)", "Trend (BL)", "Trend (Real-time)"], "range": ["#000000", "#4472c4", "#ff0000", "#ed7d31", "#000000"]},
                  "legend": {"title": null, "orient": "none", "legendX": 184, "legendY": -1, "symbolSize": 576,
                    "symbolType": {"expr": "datum.value === 'Consensus 6-10 Year' ? 'M-1,0H1M0.18,0A0.18,0.18,0,1,1,-0.18,0A0.18,0.18,0,1,1,0.18,0' : 'stroke'"},
                    "symbolStrokeWidth": {"expr": "datum.value === 'Inflation target (central value)' ? 2.5 : (datum.value === 'Trend (Real-time)' ? 1.6 : 2)"},
                    "symbolDash": {"expr": "datum.value === 'Inflation target (central value)' ? [5, 3] : (datum.value === 'Trend (Real-time)' ? [3, 2] : [])"},
                    "labelFontSize": 11, "labelColor": "#595959", "labelOffset": 3, "rowPadding": 1}}
              }
            },
            {
              "data": {"name": "bc"},
              "mark": {"type": "point", "filled": true, "opacity": 1, "color": "#4472c4", "size": 32},
              "encoding": {
                "y": {"field": "v", "type": "quantitative", "scale": {"domain": [1, 4.59], "nice": false, "zero": false},
                      "axis": {"values": [1,1.5,2,2.5,3,3.5,4,4.5], "format": ".1f", "grid": true, "labelFontSize": 10.5, "labelPadding": 12, "labelOverlap": false, "title": "(Percent)", "titleAngle": 0, "titleAlign": "left", "titleBaseline": "alphabetic", "titleX": -28, "titleY": -32, "titleFont": "Liberation Sans", "titleFontSize": 14, "titleFontStyle": "italic", "titleFontWeight": "bold", "titleColor": "#4a85bf"}}
              }
            },
            {
              "data": {"name": "br"},
              "mark": {"type": "line"},
              "encoding": {
                "y": {"field": "v", "type": "quantitative", "scale": {"domain": [1, 4.59], "nice": false, "zero": false},
                      "axis": {"values": [1,1.5,2,2.5,3,3.5,4,4.5], "format": ".1f", "grid": true, "labelFontSize": 10.5, "labelPadding": 12, "labelOverlap": false, "title": "(Percent)", "titleAngle": 0, "titleAlign": "left", "titleBaseline": "alphabetic", "titleX": -28, "titleY": -32, "titleFont": "Liberation Sans", "titleFontSize": 14, "titleFontStyle": "italic", "titleFontWeight": "bold", "titleColor": "#4a85bf"}},
                "strokeWidth": {"value": 1.5},
                "strokeDash": {"value": [3, 2]},
                "color": {"datum": "Trend (Real-time)", "type": "nominal",
                  "scale": {"domain": ["Korea trend inflation", "Consensus 6-10 Year", "Inflation target (central value)", "Trend (BL)", "Trend (Real-time)"], "range": ["#000000", "#4472c4", "#ff0000", "#ed7d31", "#000000"]},
                  "legend": {"title": null, "orient": "none", "legendX": 184, "legendY": -1, "symbolSize": 576,
                    "symbolType": {"expr": "datum.value === 'Consensus 6-10 Year' ? 'M-1,0H1M0.18,0A0.18,0.18,0,1,1,-0.18,0A0.18,0.18,0,1,1,0.18,0' : 'stroke'"},
                    "symbolStrokeWidth": {"expr": "datum.value === 'Inflation target (central value)' ? 2.5 : (datum.value === 'Trend (Real-time)' ? 1.6 : 2)"},
                    "symbolDash": {"expr": "datum.value === 'Inflation target (central value)' ? [5, 3] : (datum.value === 'Trend (Real-time)' ? [3, 2] : [])"},
                    "labelFontSize": 11, "labelColor": "#595959", "labelOffset": 3, "rowPadding": 1}}
              }
            }
          ]
        }
      ]
    },
    {
      "spacing": 25,
      "resolve": {"scale": {"color": "independent"}},
      "hconcat": [
        {
          "width": 348, "height": 199,
          "title": {"text": "C", "subtitle": "\u200b\u00a0\u00a0\u00a0\u00a0\u2009Trend inflation shock: standard deviation", "anchor": "start", "frame": "bounds", "dx": -2, "offset": 6, "font": "Liberation Sans", "fontSize": 18, "fontWeight": "bold", "color": "#000000", "subtitleFont": "Liberation Sans", "subtitleFontSize": 16.7, "subtitleFontWeight": "bold", "subtitleColor": "#4a85bf", "subtitlePadding": -17},
          "encoding": {
            "x": {"field": "t", "type": "quantitative", "scale": {"domain": [1996, 2018.2], "nice": false, "zero": false},
                  "axis": {"values": [1996,1997,1998,1999,2000,2001,2002,2003,2004,2005,2006,2007,2008,2009,2010,2011,2012,2013,2014,2015,2016,2017,2018], "format": "d", "labelAngle": 270, "labelFontSize": 12, "labelPadding": 11, "grid": false, "title": null, "labelOverlap": false}}
          },
          "layer": [
            {
              "data": {"name": "c"},
              "mark": {"type": "line", "color": "#a6a6a6", "strokeWidth": 2.2, "interpolate": "monotone"},
              "encoding": {
                "y": {"field": "hi", "type": "quantitative", "scale": {"domain": [0, 15], "nice": false},
                      "axis": {"values": [0, 5, 10, 15], "grid": true, "labelFontSize": 13, "labelPadding": 15, "labelOverlap": false, "title": null}}
              }
            },
            {
              "data": {"name": "c"},
              "mark": {"type": "line", "color": "#a6a6a6", "strokeWidth": 2.2, "interpolate": "monotone"},
              "encoding": {
                "y": {"field": "lo", "type": "quantitative", "scale": {"domain": [0, 15], "nice": false},
                      "axis": {"values": [0, 5, 10, 15], "grid": true, "labelFontSize": 13, "labelPadding": 15, "labelOverlap": false, "title": null}}
              }
            },
            {
              "data": {"name": "c"},
              "mark": {"type": "line", "strokeWidth": 3, "interpolate": "monotone"},
              "encoding": {
                "y": {"field": "mid", "type": "quantitative", "scale": {"domain": [0, 15], "nice": false},
                      "axis": {"values": [0, 5, 10, 15], "grid": true, "labelFontSize": 13, "labelPadding": 15, "labelOverlap": false, "title": null}},
                "color": {"datum": "Korea", "type": "nominal", "scale": {"domain": ["Korea"], "range": ["#000000"]},
                  "legend": {"title": null, "orient": "none", "legendX": 35, "legendY": 0, "symbolType": "stroke", "symbolSize": 529, "symbolStrokeWidth": 3, "labelFontSize": 14, "labelOffset": 3, "labelColor": "#595959"}}
              }
            }
          ]
        },
        {
          "width": 339, "height": 206,
          "title": {"text": "D", "subtitle": "\u200b\u00a0\u00a0\u00a0\u00a0\u00a0\u2009Inflation gap shocks: standard deviation", "anchor": "start", "frame": "bounds", "dx": -11, "offset": 6, "font": "Liberation Sans", "fontSize": 18, "fontWeight": "bold", "color": "#000000", "subtitleFont": "Liberation Sans", "subtitleFontSize": 16.7, "subtitleFontWeight": "bold", "subtitleColor": "#4a85bf", "subtitlePadding": -17},
          "encoding": {
            "x": {"field": "t", "type": "quantitative", "scale": {"domain": [1996, 2018.4], "nice": false, "zero": false},
                  "axis": {"values": [1996,1997,1998,1999,2000,2001,2002,2003,2004,2005,2006,2007,2008,2009,2010,2011,2012,2013,2014,2015,2016,2017,2018], "format": "d", "labelAngle": 270, "labelFontSize": 11.3, "labelPadding": 11, "grid": false, "title": null, "labelOverlap": false}}
          },
          "layer": [
            {
              "data": {"name": "d"},
              "mark": {"type": "line", "color": "#a6a6a6", "strokeWidth": 2.2, "interpolate": "monotone"},
              "encoding": {
                "y": {"field": "hi", "type": "quantitative", "scale": {"domain": [0, 15], "nice": false},
                      "axis": {"values": [0, 5, 10, 15], "grid": true, "labelFontSize": 12.6, "labelPadding": 13, "labelOverlap": false, "title": null}}
              }
            },
            {
              "data": {"name": "d"},
              "mark": {"type": "line", "color": "#a6a6a6", "strokeWidth": 2.2, "interpolate": "monotone"},
              "encoding": {
                "y": {"field": "lo", "type": "quantitative", "scale": {"domain": [0, 15], "nice": false},
                      "axis": {"values": [0, 5, 10, 15], "grid": true, "labelFontSize": 12.6, "labelPadding": 13, "labelOverlap": false, "title": null}}
              }
            },
            {
              "data": {"name": "d"},
              "mark": {"type": "line", "strokeWidth": 3, "interpolate": "monotone"},
              "encoding": {
                "y": {"field": "mid", "type": "quantitative", "scale": {"domain": [0, 15], "nice": false},
                      "axis": {"values": [0, 5, 10, 15], "grid": true, "labelFontSize": 12.6, "labelPadding": 13, "labelOverlap": false, "title": null}},
                "color": {"datum": "Korea", "type": "nominal", "scale": {"domain": ["Korea"], "range": ["#000000"]},
                  "legend": {"title": null, "orient": "none", "legendX": 246, "legendY": 8, "symbolType": "stroke", "symbolSize": 625, "symbolStrokeWidth": 3, "labelFontSize": 13.5, "labelOffset": 3, "labelColor": "#595959"}}
              }
            }
          ]
        }
      ]
    }
  ]
}
